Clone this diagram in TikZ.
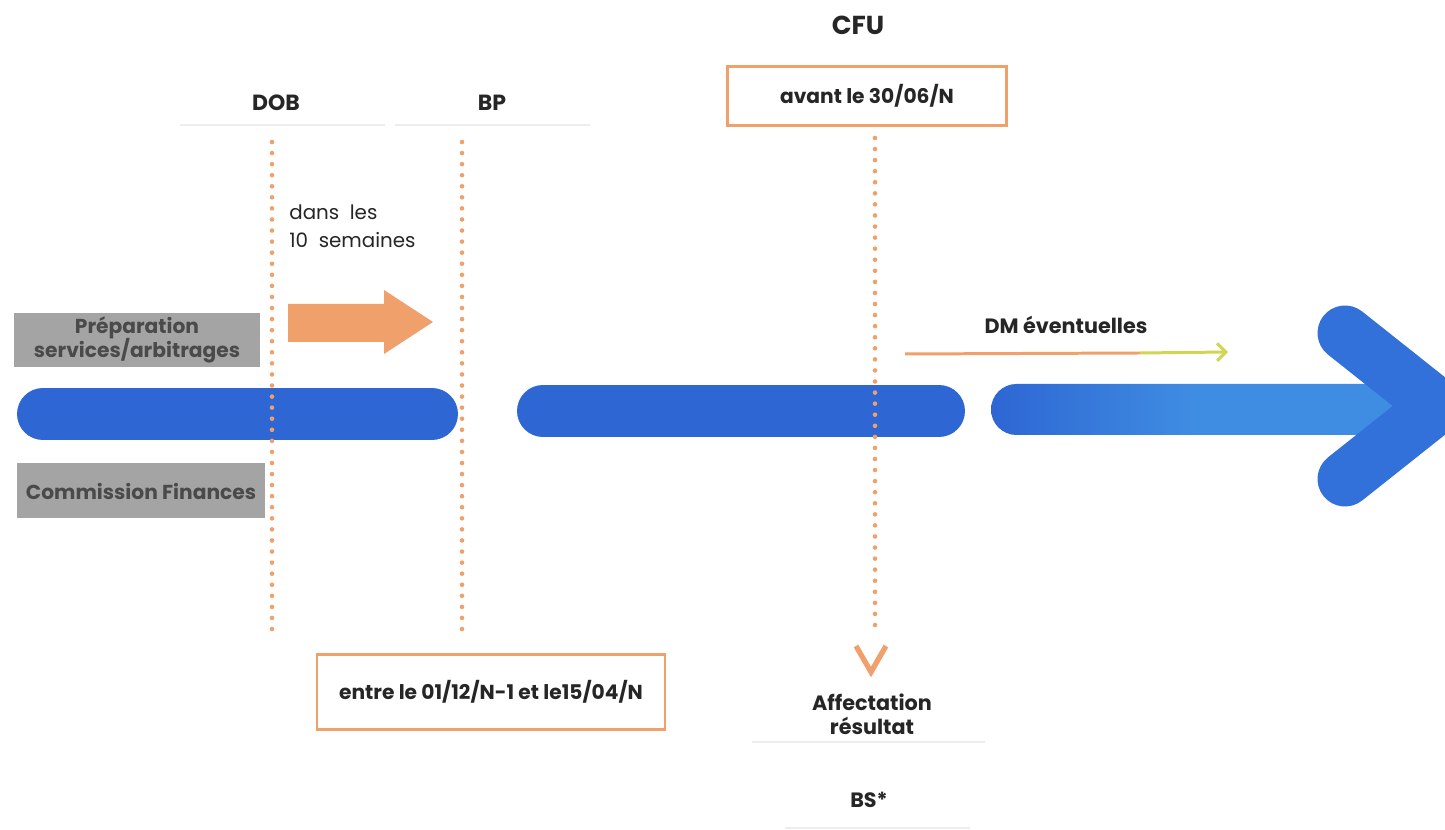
\documentclass[tikz,border=0pt]{standalone}
\usepackage{fontspec}
\setmainfont{Poppins}
\usetikzlibrary{arrows.meta,positioning}

\definecolor{barblue}{HTML}{2E66D3}
\definecolor{midblue}{HTML}{3171D9}
\definecolor{lightblue}{HTML}{3F8DE2}
\definecolor{peach}{HTML}{EFA06B}
\definecolor{boxgray}{HTML}{A4A4A4}
\definecolor{textgray}{HTML}{4A4A4A}
\definecolor{lime}{HTML}{C9E24A}

\begin{document}
\begin{tikzpicture}[x=0.02cm,y=-0.02cm,
	lbl/.style={font=\bfseries\fontsize{11.8}{13.8}\selectfont,text=black!85,align=center,inner sep=0},
	datebox/.style={draw=peach,line width=1.6pt,font=\bfseries\fontsize{11.5}{13}\selectfont,text=black!85,inner sep=0},
	graybox/.style={fill=boxgray,text=textgray,font=\bfseries\fontsize{11.5}{14}\selectfont,align=center,inner sep=0},
	note/.style={anchor=west,font=\fontsize{11.3}{13}\selectfont,text=black!85,inner sep=0},
	bar/.style={barblue,line width=1.04cm,line cap=round},
	guide/.style={peach,line width=2.6pt,line cap=round,dash pattern=on 0pt off 6.3pt},
	faint/.style={black!7,line width=0.8pt}]
	\path[use as bounding box] (0,0) rectangle (1445,830);
	\clip (0,0) rectangle (1445,830);
	\fill[white] (0,0) rectangle (1445,830);

	\node[lbl,font=\bfseries\fontsize{14.8}{16}\selectfont] (cfu) at (858,25) {CFU};
	\node[datebox,minimum width=5.58cm,minimum height=1.18cm] (avant) at (867,96) {avant le 30/06/N};
	\node[lbl,font=\bfseries\fontsize{12.5}{14}\selectfont] (dob) at (276,103) {DOB};
	\node[lbl,font=\bfseries\fontsize{12.5}{14}\selectfont] (bp) at (492,103) {BP};
	\draw[faint] (180,125) -- (385,125);
	\draw[faint] (395,125) -- (590,125);

	\node[note] (dans) at (289,212) {dans\ \ les};
	\node[note] (semaines) at (289,240) {10\ \ semaines};
	\fill[peach] (288,304) -- (384,304) -- (384,290) -- (433,322) -- (384,354) -- (384,342) -- (288,342) -- cycle;

	\node[graybox,minimum width=4.92cm,minimum height=1.08cm] (prep) at (137,340) {Préparation\\services/arbitrages};
	\node[graybox,minimum width=4.98cm,minimum height=1.1cm] (comm) at (141,491) {Commission Finances};

	\coordinate (ba) at (43,414);
	\coordinate (bb) at (432,414);
	\coordinate (bc) at (543,411);
	\coordinate (bd) at (939,411);
	\draw[bar] (ba) -- (bb);
	\draw[bar] (bc) -- (bd);
	\shade[rounded corners=0.51cm,left color=barblue,right color=lightblue,middle color=lightblue] (991,384) rectangle (1400,435);
	\draw[bar,midblue,line width=1.1cm,line join=miter] (1345,333) -- (1437,406) -- (1345,479);

	\coordinate (dobtop) at (272,142);
	\coordinate (dobbot) at (272,636);
	\coordinate (bptop) at (462,142);
	\coordinate (bpbot) at (462,636);
	\coordinate (cfutop) at (875,138);
	\coordinate (cfubot) at (875,633);
	\draw[guide] (dobtop) -- (dobbot);
	\draw[guide] (bptop) -- (bpbot);
	\draw[guide] (cfutop) -- (cfubot);
	\draw[peach,line width=3pt] (856,646) -- (871,672) -- (886,646);

	\node[lbl] (dm) at (1066,325) {DM éventuelles};
	\coordinate (dma) at (905,354);
	\coordinate (dmb) at (1140,353);
	\coordinate (dmc) at (1228,352);
	\draw[peach,line width=1.7pt] (dma) -- (dmb);
	\draw[lime!80!peach,line width=1.7pt,-{Straight Barb[length=5pt,width=10pt]}] (dmb) -- (dmc);

	\node[lbl] (affect) at (872,714) {Affectation\\résultat};
	\draw[faint] (752,742) -- (985,742);
	\node[datebox,minimum width=6.96cm,minimum height=1.5cm] (entre) at (491,692) {entre le 01/12/N-1 et le15/04/N};
	\node[lbl] (bs) at (869,800) {BS*};
	\draw[faint] (785,828) -- (970,828);
\end{tikzpicture}
\end{document}
